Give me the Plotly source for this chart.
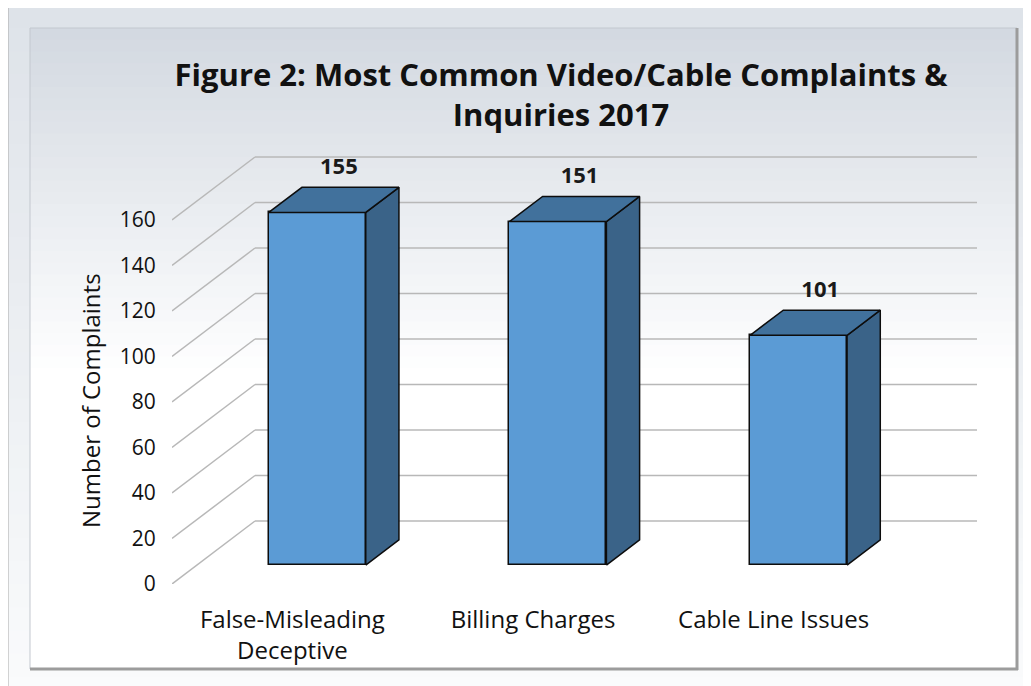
import plotly.graph_objects as go

# ---------------- data ----------------
categories = ["False-Misleading<br>Deceptive", "Billing Charges", "Cable Line Issues"]
complaints = [155, 151, 101]
y_ticks = [0, 20, 40, 60, 80, 100, 120, 140, 160]
title_text = "Figure 2: Most Common Video/Cable Complaints &<br>Inquiries 2017"
y_title = "Number of Complaints"

# ---------------- geometry / style ----------------
OFF = 8                    # default page margin of the html body
W, H = 1031 - OFF, 686 - OFF
L, R, T, B = 164, 54, 132, 102
PW, PH = W - L - R, H - T - B
CAT_PX = 240.67           # pixels per category on the front plane
PX_PER_UNIT = 2.275       # pixels per complaint on the front plane
X0 = -0.5
X1 = X0 + PW / CAT_PX
Y1 = PH / PX_PER_UNIT
DX = 83 / CAT_PX          # wall depth (x, category units)
DY = 63 / PX_PER_UNIT     # wall depth (y, value units)
D_FRONT, D_DEPTH = 0.3, 0.4
BAR_W = 97 / CAT_PX
n = len(complaints)

FRONT = "#5B9BD5"
TOP = "#41719C"
SIDE = "#3A6388"
EDGE = "#0d0d0d"
GRID = "#b8b8b8"
FONT = "Open Sans"


def px_x(p):
    return (p - OFF - L) / PW


def px_y(p):
    return (H - B - (p - OFF)) / PH


fig = go.Figure()

# front faces of the bars
xc = [i + D_FRONT * DX for i in range(n)]
base = D_FRONT * DY
fig.add_trace(go.Bar(
    x=xc, y=complaints, base=base, width=BAR_W,
    marker=dict(color=FRONT, line=dict(color=EDGE, width=1.5)),
    hoverinfo="skip", showlegend=False,
))

ddx, ddy = D_DEPTH * DX, D_DEPTH * DY
for i, v in enumerate(complaints):
    xl, xr = xc[i] - BAR_W / 2, xc[i] + BAR_W / 2
    top = base + v
    # side face
    fig.add_trace(go.Scatter(
        x=[xr, xr + ddx, xr + ddx, xr, xr],
        y=[base, base + ddy, top + ddy, top, base],
        mode="lines", fill="toself", fillcolor=SIDE,
        line=dict(color=EDGE, width=1.5), hoverinfo="skip", showlegend=False,
    ))
    # top face
    fig.add_trace(go.Scatter(
        x=[xl, xr, xr + ddx, xl + ddx, xl],
        y=[top, top, top + ddy, top + ddy, top],
        mode="lines", fill="toself", fillcolor=TOP,
        line=dict(color=EDGE, width=1.5), hoverinfo="skip", showlegend=False,
    ))

# data labels
fig.add_trace(go.Scatter(
    x=[c + 0.09 for c in xc],
    y=[base + v + ddy + 8.4 for v in complaints],
    text=[f"<b>{v}</b>" for v in complaints],
    mode="text", textposition="middle center",
    textfont=dict(family=FONT, size=22, color="#1a1a1a"),
    hoverinfo="skip", showlegend=False,
))

shapes = []


def lerp(c1, c2, t):
    return "rgb(%d,%d,%d)" % tuple(round(a + (b - a) * t) for a, b in zip(c1, c2))


# outer frame gradient
o_top, o_bot = (222, 227, 233), (250, 251, 252)
steps = 30
y_a, y_b = 5, 700
for k in range(steps):
    ya = y_a + (y_b - y_a) * k / steps
    yb = y_a + (y_b - y_a) * (k + 1) / steps + 1
    shapes.append(dict(type="rect", xref="paper", yref="paper", layer="below",
                       x0=px_x(8), x1=px_x(1040), y0=px_y(ya), y1=px_y(yb),
                       fillcolor=lerp(o_top, o_bot, k / (steps - 1)), line=dict(width=0)))
shapes.append(dict(type="rect", xref="paper", yref="paper", layer="below",
                   x0=px_x(8), x1=px_x(1040), y0=px_y(5), y1=px_y(700),
                   line=dict(color="#a9a9a9", width=1)))

# inner panel gradient
i_top, i_bot = (211, 217, 225), (255, 255, 255)
y_a, y_b = 28, 380
for k in range(steps):
    ya = y_a + (y_b - y_a) * k / steps
    yb = y_a + (y_b - y_a) * (k + 1) / steps + 1
    shapes.append(dict(type="rect", xref="paper", yref="paper", layer="below",
                       x0=px_x(30), x1=px_x(1017), y0=px_y(ya), y1=px_y(yb),
                       fillcolor=lerp(i_top, i_bot, k / (steps - 1)), line=dict(width=0)))
shapes.append(dict(type="rect", xref="paper", yref="paper", layer="below",
                   x0=px_x(30), x1=px_x(1017), y0=px_y(380), y1=px_y(669),
                   fillcolor="white", line=dict(width=0)))
# panel edges
shapes.append(dict(type="line", xref="paper", yref="paper", layer="below",
                   x0=px_x(30), x1=px_x(1017), y0=px_y(28), y1=px_y(28),
                   line=dict(color="#c3c8cf", width=1)))
shapes.append(dict(type="line", xref="paper", yref="paper", layer="below",
                   x0=px_x(30), x1=px_x(30), y0=px_y(28), y1=px_y(669),
                   line=dict(color="#c3c8cf", width=1)))
shapes.append(dict(type="line", xref="paper", yref="paper", layer="below",
                   x0=px_x(1017), x1=px_x(1017), y0=px_y(28), y1=px_y(670),
                   line=dict(color="#9c9c9c", width=3)))
shapes.append(dict(type="line", xref="paper", yref="paper", layer="below",
                   x0=px_x(30), x1=px_x(1018), y0=px_y(669), y1=px_y(669),
                   line=dict(color="#9c9c9c", width=3)))

# 3D walls gridlines
for v in y_ticks:
    shapes.append(dict(type="line", xref="x", yref="y", layer="below",
                       x0=X0, y0=v, x1=X0 + DX, y1=v + DY,
                       line=dict(color=GRID, width=1.5)))
    shapes.append(dict(type="line", xref="x", yref="y", layer="below",
                       x0=X0 + DX, y0=v + DY, x1=n - 0.5 + DX, y1=v + DY,
                       line=dict(color=GRID, width=1.5)))

fig.update_layout(
    width=W, height=H,
    margin=dict(l=L, r=R, t=T, b=B, pad=0),
    paper_bgcolor="white", plot_bgcolor="rgba(0,0,0,0)",
    title=dict(text=f"<b>{title_text}</b>", x=(561 - OFF) / W, xanchor="center",
               y=1 - 78 / H, yanchor="middle", xref="container", yref="container",
               font=dict(family=FONT, size=31, color="#111111")),
    shapes=shapes,
    annotations=[dict(text=y_title, textangle=-90, xref="paper", yref="paper",
                      x=px_x(90), y=px_y(401), xanchor="center", yanchor="middle",
                      showarrow=False,
                      font=dict(family=FONT, size=24, color="#111111"))],
    bargap=0,
    showlegend=False,
    xaxis=dict(range=[X0, X1], tickvals=list(range(n)), ticktext=categories,
               showgrid=False, zeroline=False, showline=False,
               ticks="outside", ticklen=14, tickcolor="rgba(0,0,0,0)",
               tickfont=dict(family=FONT, size=24, color="#111111"), fixedrange=True),
    yaxis=dict(range=[0, Y1], tickvals=y_ticks,
               showgrid=False, zeroline=False, showline=False,
               ticks="outside", ticklen=11, tickcolor="rgba(0,0,0,0)",
               tickfont=dict(family=FONT, size=21, color="#111111"),
               fixedrange=True),
)

fig.write_html("out.html")
